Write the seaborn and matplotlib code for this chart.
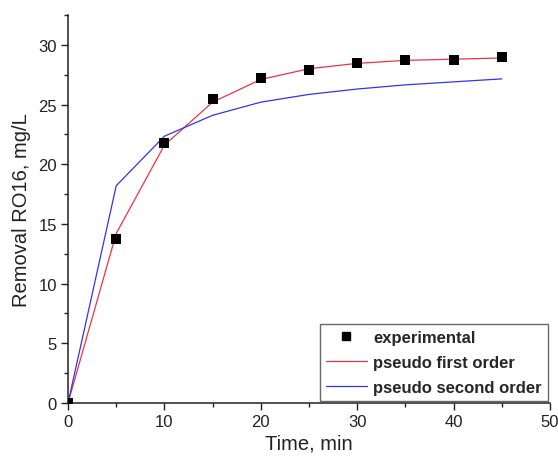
import matplotlib
matplotlib.use("Agg")
import matplotlib.pyplot as plt
import seaborn as sns
import pandas as pd
from matplotlib.ticker import MultipleLocator
from matplotlib.lines import Line2D

time_exp = [0, 5, 10, 15, 20, 25, 30, 35, 40, 45]
removal_exp = [0.0, 13.7, 21.8, 25.5, 27.2, 27.9, 28.5, 28.7, 28.75, 28.95]
time_fit = [0, 5, 10, 15, 20, 25, 30, 35, 40, 45]
pfo = [0.0, 14.2, 21.6, 25.2, 27.1, 28.0, 28.45, 28.7, 28.8, 28.9]
pso = [0.0, 18.2, 22.35, 24.1, 25.2, 25.85, 26.3, 26.65, 26.9, 27.15]

sns.set_theme(style="ticks")
plt.rcParams['font.family'] = ['Liberation Sans', 'DejaVu Sans']

fig = plt.figure(figsize=(5.58, 4.64), dpi=100)
ax = fig.add_axes([0.1219, 0.1293, 0.8638, 0.8362])

fit_df = pd.DataFrame({
    "t": time_fit * 2,
    "q": pfo + pso,
    "model": ["pseudo first order"] * len(time_fit) + ["pseudo second order"] * len(time_fit),
})
exp_df = pd.DataFrame({"t": time_exp, "q": removal_exp})

sns.lineplot(data=fit_df, x="t", y="q", hue="model",
             palette={"pseudo first order": "#ee3344", "pseudo second order": "#3333ee"},
             linewidth=0.9, ax=ax, legend=False, estimator=None, sort=False)
sns.scatterplot(data=exp_df, x="t", y="q", marker="s", color="black", s=55,
                edgecolor="black", linewidth=0, ax=ax, zorder=5, legend=False)

ax.set_xlim(0, 50)
ax.set_ylim(0, 32.5)
ax.xaxis.set_major_locator(MultipleLocator(10))
ax.xaxis.set_minor_locator(MultipleLocator(5))
ax.yaxis.set_major_locator(MultipleLocator(5))
ax.yaxis.set_minor_locator(MultipleLocator(2.5))
ax.tick_params(which="major", direction="out", length=5, width=1, labelsize=12,
               color="#222222", labelcolor="#222222", pad=3)
ax.tick_params(which="minor", direction="out", length=3, width=1, color="#222222")
for s in ["top", "right"]:
    ax.spines[s].set_visible(False)
for s in ["left", "bottom"]:
    ax.spines[s].set_linewidth(1.1)
    ax.spines[s].set_color("#222222")

ax.set_xlabel("Time, min", fontsize=14.5, color="#222222", labelpad=3)
ax.set_ylabel("Removal RO16, mg/L", fontsize=14.5, color="#222222", labelpad=5)

handles = [
    Line2D([], [], marker="s", color="black", linestyle="none", markersize=6),
    Line2D([], [], color="#ee3344", linewidth=0.9),
    Line2D([], [], color="#3333ee", linewidth=0.9),
]
leg = ax.legend(handles, ["experimental", "pseudo first order", "pseudo second order"],
                loc="lower right", borderaxespad=0.15, frameon=True, fancybox=False,
                edgecolor="#444444", prop={"weight": "bold", "size": 12},
                handlelength=2.5, handletextpad=0.35, labelspacing=0.6, borderpad=0.35)
leg.get_frame().set_linewidth(1.0)

fig.savefig("out.png", dpi=100)
